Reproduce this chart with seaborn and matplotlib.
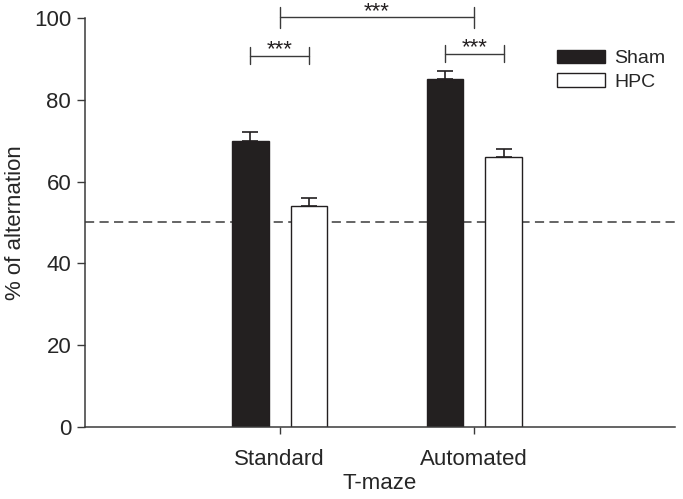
import matplotlib
matplotlib.use("Agg")
import matplotlib.pyplot as plt
import seaborn as sns
import pandas as pd
from matplotlib.patches import Patch

conditions = ["Standard", "Automated"]
groups = ["Sham", "HPC"]
sham_values = [70, 85]
hpc_values = [54, 66]
sham_sem = [2, 2]
hpc_sem = [2, 2]
chance_level = 50
y_ticks = [0, 20, 40, 60, 80, 100]

df = pd.DataFrame({
    "T-maze": conditions * 2,
    "group": [groups[0]] * 2 + [groups[1]] * 2,
    "value": sham_values + hpc_values,
})

sns.set_style("ticks")
plt.rcParams["font.family"] = ["Liberation Sans", "DejaVu Sans"]

ink = "#231f20"
line_c = "#3a3a3a"

fig = plt.figure(figsize=(6.83, 4.99), dpi=100)
ax = fig.add_axes([0.1245, 0.1443, 0.8635, 0.8197])

sns.barplot(data=df, x="T-maze", y="value", hue="group", order=conditions,
            hue_order=groups, palette={"Sham": ink, "HPC": "white"},
            edgecolor=ink, linewidth=1.0, width=0.6, gap=0.38,
            errorbar=None, legend=False, ax=ax)

sems = {0: sham_sem, 1: hpc_sem}
vals = {0: sham_values, 1: hpc_values}
centers = {}
bar_containers = list(ax.containers)
for gi, cont in enumerate(bar_containers):
    xs = [p.get_x() + p.get_width() / 2 for p in cont.patches]
    centers[gi] = xs
for gi in centers:
    ax.errorbar(centers[gi], vals[gi], yerr=[[0] * len(centers[gi]), sems[gi]],
                fmt="none", ecolor=ink, elinewidth=1.2, capsize=6,
                capthick=1.2, zorder=1)

ax.axhline(chance_level, color=line_c, ls=(0, (6, 3.5)), lw=1.1, zorder=0)

fs = 16
ax.set_xlim(-1.0, 2.03)
ax.set_ylim(0, 100)
ax.set_yticks(y_ticks)
ax.set_ylabel("% of alternation", fontsize=fs, labelpad=6)
ax.set_xlabel("T-maze", fontsize=fs, labelpad=2)
ax.tick_params(axis="both", labelsize=fs, color=line_c, width=1.0)
ax.tick_params(axis="y", length=6, pad=4)
ax.tick_params(axis="x", length=5, pad=11)
for s in ["top", "right"]:
    ax.spines[s].set_visible(False)
for s in ["left", "bottom"]:
    ax.spines[s].set_color(line_c)
    ax.spines[s].set_linewidth(1.1)


def bracket(x1, x2, y, tick_up, tick_down, text_y):
    kw = dict(color=line_c, lw=1.0, clip_on=False)
    ax.plot([x1, x2], [y, y], **kw)
    ax.plot([x1, x1], [y - tick_down, y + tick_up], **kw)
    ax.plot([x2, x2], [y - tick_down, y + tick_up], **kw)
    ax.text((x1 + x2) / 2, text_y, "***", ha="center", va="baseline",
            fontsize=16, color=ink, clip_on=False)


bracket(centers[0][0], centers[1][0], 90.7, 2.2, 2.0, 91.0)
bracket(centers[0][1], centers[1][1], 91.2, 2.2, 2.0, 91.5)
bracket(0, 1, 100.2, 2.5, 2.6, 100.2)

handles = [Patch(facecolor=ink, edgecolor=ink, label="Sham"),
           Patch(facecolor="white", edgecolor=ink, label="HPC")]
ax.legend(handles=handles, frameon=False, loc="upper left",
          bbox_to_anchor=(0.77, 0.965), fontsize=14, handlelength=2.5,
          handleheight=0.7, handletextpad=0.45, labelspacing=0.3)

fig.savefig("out.png", dpi=100)
